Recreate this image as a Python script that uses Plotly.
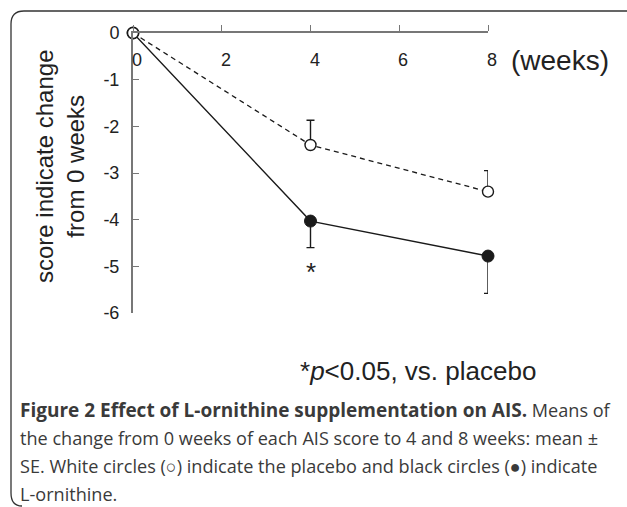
import plotly.graph_objects as go

weeks = [0, 4, 8]
placebo_mean = [0, -2.4, -3.4]
placebo_se = [0, 0.53, 0.45]
ornithine_mean = [0, -4.03, -4.78]
ornithine_se = [0, 0.57, 0.8]
x_ticks = [0, 2, 4, 6, 8]
y_ticks = [0, -1, -2, -3, -4, -5, -6]
caption_lines = [
    "<span style='font-size:19px'><b>Figure 2 Effect of L-ornithine supplementation on AIS.</b></span> Means of",
    "the change from 0 weeks of each AIS score to 4 and 8 weeks: mean ±",
    "SE. White circles (○) indicate the placebo and black circles (●) indicate",
    "L-ornithine.",
]

W, H = 627, 507
L, R, T, B = 133, 139, 33, 194
PW, PH = W - L - R, H - T - B

def px(x):
    return (x - L) / PW

def py(y):
    return (H - B - y) / PH

fig = go.Figure()
fig.add_trace(go.Scatter(
    x=weeks, y=ornithine_mean, mode="lines+markers",
    line=dict(color="#1a1a1a", width=1.4),
    marker=dict(symbol="circle", size=12, color="#1a1a1a", line=dict(color="#1a1a1a", width=1)),
    error_y=dict(type="data", symmetric=False, array=[0, 0, 0], arrayminus=ornithine_se,
                 color="#1a1a1a", thickness=1.4, width=4),
    cliponaxis=False, showlegend=False))
fig.add_trace(go.Scatter(
    x=weeks, y=placebo_mean, mode="lines+markers",
    line=dict(color="#1a1a1a", width=1.3, dash="5px,4px"),
    marker=dict(symbol="circle", size=11, color="white", line=dict(color="#1a1a1a", width=1.4)),
    error_y=dict(type="data", symmetric=False, array=placebo_se, arrayminus=[0, 0, 0],
                 color="#1a1a1a", thickness=1.4, width=4),
    cliponaxis=False, showlegend=False))

fig.update_layout(
    width=W, height=H,
    margin=dict(l=L, r=R, t=T, b=B, autoexpand=False),
    paper_bgcolor="white", plot_bgcolor="white",
    font=dict(family="Liberation Sans, Arial, sans-serif", color="#222222"),
    xaxis=dict(range=[0, 8], tickvals=x_ticks, showticklabels=False,
               side="top", ticks="outside", ticklen=6, tickcolor="#777777", tickwidth=1.3,
               showline=True, linecolor="#777777", linewidth=1.5,
               showgrid=False, zeroline=False),
    yaxis=dict(range=[-6, 0], tickvals=y_ticks, ticktext=[str(v) for v in y_ticks],
               ticks="inside", ticklen=6, tickcolor="#777777", tickwidth=1.3,
               showline=True, linecolor="#777777", linewidth=2, ticklabelstandoff=8,
               showgrid=False, zeroline=False, tickfont=dict(size=18)),
)

for v in x_ticks:
    fig.add_annotation(text=str(v), xref="x", yref="paper", x=v, y=py(60), xshift=4,
                       xanchor="center", yanchor="middle", showarrow=False,
                       font=dict(size=18, color="#222222"))

fig.add_annotation(text="score indicate change<br>from 0 weeks", textangle=-90,
                   xref="paper", yref="paper", x=px(60), y=py(167),
                   xanchor="center", yanchor="middle",
                   showarrow=False, font=dict(size=24, color="#222222"))
fig.add_annotation(text="(weeks)", xref="paper", yref="paper", x=px(560), y=py(60),
                   xanchor="center", yanchor="middle",
                   showarrow=False, font=dict(size=28, color="#222222"))
fig.add_annotation(text="*", xref="x", yref="y", x=4, y=-5.0, yshift=-6,
                   showarrow=False, font=dict(size=26, color="#222222"))
fig.add_annotation(text="*<i>p</i>&lt;0.05, vs. placebo", xref="paper", yref="paper",
                   x=px(418), y=py(371), xanchor="center", yanchor="middle", showarrow=False,
                   font=dict(size=26, color="#222222"))

for i, line in enumerate(caption_lines):
    fig.add_annotation(text=line, xref="paper", yref="paper", x=px(18), y=py(410 + 28 * i),
                       xanchor="left", yanchor="middle", align="left", showarrow=False,
                       font=dict(family="Open Sans, Noto Sans, sans-serif", size=18.1, color="#3a3a3a"))

frame = (f"M {px(630)},{py(11)} L {px(24)},{py(11)} Q {px(11)},{py(11)} {px(11)},{py(24)} "
         f"L {px(11)},{py(493)} Q {px(11)},{py(506)} {px(22)},{py(506)}")
fig.add_shape(type="path", xref="paper", yref="paper", path=frame,
              line=dict(color="#333333", width=1.3))

fig.write_html("out.html", config={"displayModeBar": False},
               post_script="document.body.style.margin='0';document.body.style.overflow='hidden';")
